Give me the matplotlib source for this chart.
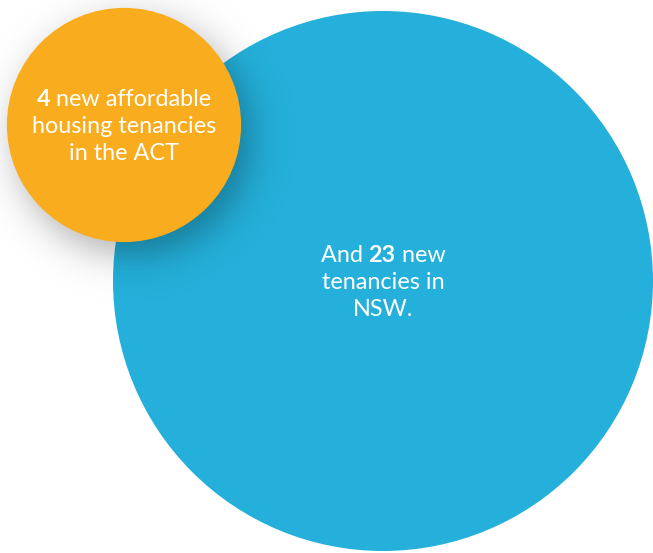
"""Two proportional bubbles: new tenancies in the ACT vs NSW."""
import numpy as np
import matplotlib
matplotlib.use("Agg")
import matplotlib.pyplot as plt
from matplotlib.patches import Circle

plt.rcParams["font.family"] = ["Lato", "DejaVu Sans"]

# data
regions = ["ACT", "NSW"]
tenancies = [4, 23]
colors = ["#F9AC1D", "#24B0DA"]
# each label line is a list of (text, bold) runs
labels = [
    [[("4", True), (" new affordable", False)],
     [("housing tenancies", False)],
     [("in the ACT", False)]],
    [[("And ", False), ("23", True), (" new", False)],
     [("tenancies in", False)],
     [("NSW.", False)]],
]

# layout (pixels, y down)
W, H = 653, 553
centres = [(124, 125), (383, 281)]
scale = 270 / np.sqrt(max(tenancies))
radii = [scale * np.sqrt(v) * (1.04 if v < max(tenancies) else 1.0) for v in tenancies]

fig = plt.figure(figsize=(W / 100, H / 100), dpi=100)
ax = fig.add_axes([0, 0, 1, 1])
ax.set_xlim(0, W)
ax.set_ylim(H, 0)
ax.set_aspect("equal")
ax.axis("off")

# big bubble first
ax.add_patch(Circle(centres[1], radii[1], color=colors[1], lw=0, zorder=1))

# soft drop shadow of the small bubble
yy, xx = np.mgrid[0:H, 0:W]
sx, sy = centres[0][0] + 8, centres[0][1] + 12
d = np.hypot(xx - sx, yy - sy)
alpha = 0.30 / (1 + np.exp((d - radii[0]) / 11.0))
shadow = np.zeros((H, W, 4))
shadow[..., 3] = alpha
ax.imshow(shadow, extent=(0, W, H, 0), zorder=2, interpolation="bilinear")

ax.add_patch(Circle(centres[0], radii[0], color=colors[0], lw=0, zorder=3))

fig.canvas.draw()
renderer = fig.canvas.get_renderer()


def draw_line(x, y, runs, size=16.8):
    texts = []
    for s, bold in runs:
        t = ax.text(0, y, s, fontsize=size, color="white",
                    fontweight="bold" if bold else "normal",
                    va="center", ha="left", zorder=5)
        texts.append(t)
    widths = [t.get_window_extent(renderer).width for t in texts]
    total = sum(widths)
    # pixel units match data units here
    cur = x - total / 2
    for t, w in zip(texts, widths):
        t.set_x(cur)
        cur += w


line_gap = 26.5
for (cx, cy), lines in zip(centres, labels):
    top = cy - 25 if cx < 200 else cy - 25
    for i, runs in enumerate(lines):
        draw_line(cx, top + i * line_gap, runs)

fig.savefig("out.png", dpi=100)
